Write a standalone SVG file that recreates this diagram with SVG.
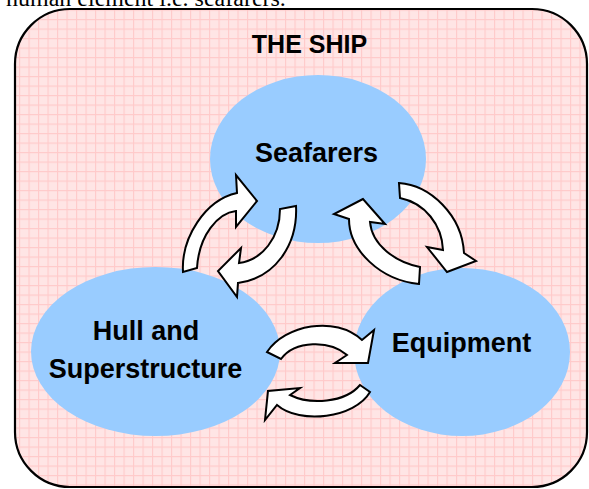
<svg xmlns="http://www.w3.org/2000/svg" width="589" height="489" viewBox="0 0 589 489">
  <defs>
    <pattern id="grid" patternUnits="userSpaceOnUse" width="9.5" height="9.5">
      <rect width="9.5" height="9.5" fill="#FFE5E5"/>
      <path d="M0 0.5H9.5M0.5 0V9.5" stroke="#FFCACA" stroke-width="1.2" fill="none"/>
    </pattern>
    <style>
      .node { fill: #99CCFF; }
      .lbl { font-family: "Liberation Sans", Arial, sans-serif; font-weight: bold; font-size: 27px; fill: #000; text-anchor: middle; }
      .arrow { fill: #FFFFFF; stroke: #000000; stroke-width: 2; stroke-linejoin: miter; }
    </style>
  </defs>

  <rect width="589" height="489" fill="#FFFFFF"/>
  <text x="6" y="6" font-family="'Liberation Serif', 'Times New Roman', serif" font-size="24" fill="#000">human element i.e. seafarers.</text>

  <g id="ship">
    <rect x="15" y="9" width="572" height="478" rx="55" ry="55" fill="url(#grid)" stroke="#000" stroke-width="2.2"/>
    <text x="309.5" y="53" class="lbl" font-size="25" style="font-size:25px">THE SHIP</text>
  </g>

  <g id="seafarers">
    <ellipse class="node" cx="318" cy="159" rx="108" ry="84"/>
    <text class="lbl" x="316.5" y="162">Seafarers</text>
  </g>

  <g id="hull">
    <ellipse class="node" cx="155.5" cy="351.5" rx="124.5" ry="84.5"/>
    <text class="lbl" x="146" y="340">Hull and</text>
    <text class="lbl" x="145.5" y="378">Superstructure</text>
  </g>

  <g id="equipment">
    <ellipse class="node" cx="462" cy="352" rx="108" ry="84"/>
    <text class="lbl" x="461.5" y="352">Equipment</text>
  </g>

  <g id="connectors">
    <path class="arrow" d="M183,272 C181,238 205,200 237,193 L236,175 L257,201 L236,227 L236,211 C218,213 199,235 197,268 Z"/>
    <path class="arrow" d="M296,206 C298,245 275,278 238,283 L237,297 L218,271 L241,248 L239,263 C262,260 280,238 280,209 Z"/>
    <path class="arrow" d="M363,199 L334,214 L349,219 C349,250 380,280 419,284 L420,267 C395,262 372,245 370,222 L385,224 Z"/>
    <path class="arrow" d="M399,183 C430,185 462,215 464,253 L476,261 L447,272 L427,247 L443,250 C442,225 425,203 400,198 Z"/>
    <path class="arrow" d="M267,352 C285,325 335,315 362,340 L374,330 L368,363 L335,363 L347,355 C330,340 295,340 281,359 Z"/>
    <path class="arrow" d="M370,392 C355,418 300,425 277,405 L265,420 L268,391 L300,388 L290,395 C310,405 345,403 360,385 Z"/>
  </g>
</svg>
